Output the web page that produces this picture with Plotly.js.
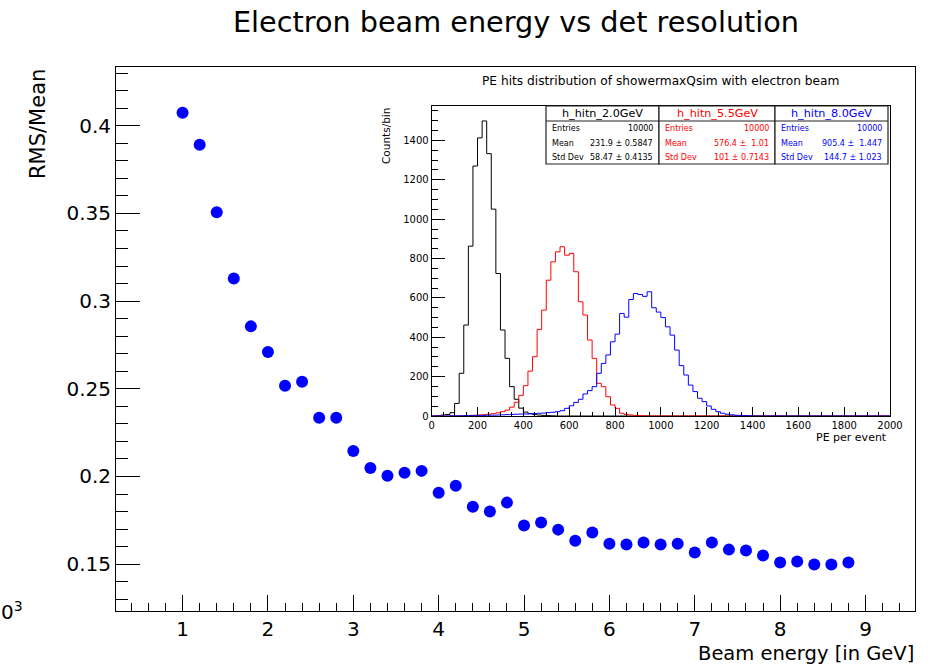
<!DOCTYPE html>
<html>
<head>
<meta charset="utf-8">
<script src="https://cdn.plot.ly/plotly-3.0.1.min.js"></script>
<style>
html,body{margin:0;padding:0;background:#ffffff;}
#chart{width:941px;height:664px;}
</style>
</head>
<body>
<div id="chart"></div>
<script>
// ---------- main graph data ----------
const beamEnergy = [1.0,1.2,1.4,1.6,1.8,2.0,2.2,2.4,2.6,2.8,
                    3.0,3.2,3.4,3.6,3.8,4.0,4.2,4.4,4.6,4.8,
                    5.0,5.2,5.4,5.6,5.8,6.0,6.2,6.4,6.6,6.8,
                    7.0,7.2,7.4,7.6,7.8,8.0,8.2,8.4,8.6,8.8];
const rmsOverMean = [0.4074,0.3892,0.3507,0.3129,0.2856,0.2710,0.2517,0.2540,0.2335,0.2335,
                     0.2146,0.2049,0.2004,0.2021,0.2032,0.1907,0.1947,0.1828,0.1800,0.1851,
                     0.1720,0.1737,0.1697,0.1634,0.1680,0.1617,0.1612,0.1623,0.1612,0.1617,
                     0.1566,0.1623,0.1583,0.1578,0.1549,0.1510,0.1515,0.1498,0.1498,0.1510];

// ---------- inset histograms (100 bins of 20 PE from 0 to 2000) ----------
const binWidth = 20;
const counts2GeV = [0,2,5,8,17,64,217,462,863,1270,
                    1413,1499,1333,1051,724,437,293,149,85,40,
                    20,12,7,5,3,2,1,0,0,0,
                    0,0,0,0,0,0,0,0,0,0,
                    0,0,0,0,0,0,0,0,0,0,
                    0,0,0,0,0,0,0,0,0,0,
                    0,0,0,0,0,0,0,0,0,0,
                    0,0,0,0,0,0,0,0,0,0,
                    0,0,0,0,0,0,0,0,0,0,
                    0,0,0,0,0,0,0,0,0,0];
const counts55GeV = [0,0,0,0,0,0,1,2,3,4,
                     5,7,9,12,16,22,30,45,70,105,
                     154,228,301,440,538,690,783,834,860,817,
                     826,733,580,513,386,293,166,149,98,56,
                     39,14,8,5,3,2,1,0,0,0,
                     0,0,0,0,0,0,0,0,0,0,
                     0,0,0,0,0,0,0,0,0,0,
                     0,0,0,0,0,0,0,0,0,0,
                     0,0,0,0,0,0,0,0,0,0,
                     0,0,0,0,0,0,0,0,0,0];
const counts8GeV = [0,0,0,0,1,1,1,2,2,2,
                    3,3,4,4,5,6,7,8,9,10,
                    10,11,12,14,15,17,19,22,27,39,
                    52,69,85,112,129,149,217,267,310,377,
                    416,521,502,592,622,617,608,631,550,528,
                    500,453,411,335,256,208,157,124,90,73,
                    51,34,22,14,9,6,4,3,2,1,
                    0,0,0,0,0,0,0,0,0,0,
                    0,0,0,0,0,0,0,0,0,0,
                    0,0,0,0,0,0,0,0,0,0];

const histNames  = ['h_hitn_2.0GeV','h_hitn_5.5GeV','h_hitn_8.0GeV'];
const histColors = ['#000000','#ff0000','#0000ff'];
const histCounts = [counts2GeV, counts55GeV, counts8GeV];
const statLabels = ['Entries','Mean','Std Dev'];
const statEntries = ['10000','10000','10000'];
const statMeans   = ['231.9 \u00b1 0.5847','576.4 \u00b1  1.01','905.4 \u00b1  1.447'];
const statStds    = ['58.47 \u00b1 0.4135','101 \u00b1 0.7143','144.7 \u00b1 1.023'];

// ---------- geometry helpers (pixel -> paper) ----------
const L = 116, R = 915, T = 67, B = 611;
const px = X => (X - L) / (R - L);
const py = Y => (B - Y) / (B - T);
const FONT = 'DejaVu Sans';

const traces = [];
histCounts.forEach((c, i) => {
  const xs = c.map((_, k) => k * binWidth);
  xs.push(c.length * binWidth);
  const ys = c.slice();
  ys.push(c[c.length - 1]);
  traces.push({
    type: 'scatter', mode: 'lines', x: xs, y: ys,
    xaxis: 'x2', yaxis: 'y2',
    line: {shape: 'hv', color: histColors[i], width: 1},
    hoverinfo: 'skip', showlegend: false
  });
});
traces.push({
  type: 'scatter', mode: 'markers', x: beamEnergy, y: rmsOverMean,
  xaxis: 'x', yaxis: 'y',
  marker: {color: '#0000ff', size: 12, line: {width: 0}},
  showlegend: false
});

const shapes = [];
const annotations = [];
const boxX = [546, 659, 775, 888];
const boxTop = 106, boxHead = 121, boxBot = 164;
const rowY = [128.3, 143.3, 158.0];
for (let i = 0; i < 3; i++) {
  const x0 = boxX[i], x1 = boxX[i + 1];
  shapes.push({type: 'rect', xref: 'paper', yref: 'paper',
    x0: px(x0), x1: px(x1), y0: py(boxBot), y1: py(boxTop),
    line: {color: '#222', width: 1.2}, fillcolor: 'rgba(255,255,255,1)', layer: 'above'});
  shapes.push({type: 'line', xref: 'paper', yref: 'paper',
    x0: px(x0), x1: px(x1), y0: py(boxHead), y1: py(boxHead),
    line: {color: '#222', width: 1}});
  annotations.push({xref: 'paper', yref: 'paper', x: px((x0 + x1) / 2), y: py((boxTop + boxHead) / 2),
    xanchor: 'center', yanchor: 'middle', showarrow: false, text: histNames[i],
    font: {family: FONT, size: 11.2, color: histColors[i]}});
  const vals = [statEntries[i], statMeans[i], statStds[i]];
  for (let r = 0; r < 3; r++) {
    annotations.push({xref: 'paper', yref: 'paper', x: px(x0 + 4), y: py(rowY[r]),
      xanchor: 'left', yanchor: 'middle', showarrow: false, text: statLabels[r],
      font: {family: FONT, size: 8, color: histColors[i]}});
    annotations.push({xref: 'paper', yref: 'paper', x: px(x1 - 4), y: py(rowY[r]),
      xanchor: 'right', yanchor: 'middle', showarrow: false, text: vals[r].replace(/ /g, '&nbsp;'),
      font: {family: FONT, size: 8, color: histColors[i]}});
  }
}

// titles and labels
annotations.push({xref: 'paper', yref: 'paper', x: px(660), y: py(81), xanchor: 'center', yanchor: 'middle',
  showarrow: false, text: 'PE hits distribution of showermaxQsim with electron beam',
  font: {family: FONT, size: 12.2, color: '#000'}});
annotations.push({xref: 'paper', yref: 'paper', x: px(889), y: py(437), xanchor: 'right', yanchor: 'middle',
  showarrow: false, text: 'PE per event', font: {family: FONT, size: 11, color: '#000'}});
annotations.push({xref: 'paper', yref: 'paper', x: px(386), y: py(106), xanchor: 'center', yanchor: 'top',
  showarrow: false, textangle: -90, text: 'Counts/bin', font: {family: FONT, size: 10.5, color: '#000'}});
annotations.push({xref: 'paper', yref: 'paper', x: 1, y: py(653), xanchor: 'right', yanchor: 'middle',
  showarrow: false, borderpad: 0, text: 'Beam energy [in GeV]', font: {family: FONT, size: 19.5, color: '#000'}});
annotations.push({xref: 'paper', yref: 'paper', x: px(38), y: py(67), xanchor: 'center', yanchor: 'top',
  showarrow: false, textangle: -90, text: 'RMS/Mean', font: {family: FONT, size: 21, color: '#000'}});
annotations.push({xref: 'paper', yref: 'paper', x: px(-1), y: py(611), xanchor: 'left', yanchor: 'middle',
  showarrow: false, text: '0<sup>3</sup>', font: {family: FONT, size: 20, color: '#000'}});

const layout = {
  width: 941, height: 664,
  margin: {l: L, r: 941 - R, t: T, b: 664 - B, pad: 0},
  paper_bgcolor: '#ffffff', plot_bgcolor: '#ffffff',
  showlegend: false,
  title: {text: 'Electron beam energy vs det resolution', x: px(516), xref: 'paper', xanchor: 'center',
          y: 1 - 22 / 664, yref: 'container', yanchor: 'middle',
          font: {family: FONT, size: 28.7, color: '#000'}},
  xaxis: {domain: [0, 1], anchor: 'y', range: [0.22, 9.58], tick0: 0, dtick: 1,
    ticks: 'inside', ticklen: 16, tickwidth: 1, tickcolor: '#000',
    minor: {dtick: 0.2, ticks: 'inside', ticklen: 8, tickwidth: 1, tickcolor: '#000'},
    showline: true, linecolor: '#000', linewidth: 1, mirror: true,
    showgrid: false, zeroline: false,
    tickfont: {family: FONT, size: 20, color: '#000'}},
  yaxis: {domain: [0, 1], anchor: 'x', range: [0.1233, 0.4335], tick0: 0, dtick: 0.05,
    ticks: 'inside', ticklen: 24, tickwidth: 1, tickcolor: '#000',
    minor: {dtick: 0.01, ticks: 'inside', ticklen: 12, tickwidth: 1, tickcolor: '#000'},
    showline: true, linecolor: '#000', linewidth: 1, mirror: true,
    showgrid: false, zeroline: false,
    tickfont: {family: FONT, size: 20, color: '#000'}},
  xaxis2: {domain: [px(431.7), px(890)], anchor: 'y2', range: [0, 2000], tick0: 0, dtick: 200,
    ticks: 'inside', ticklen: 9, tickwidth: 1, tickcolor: '#000',
    minor: {dtick: 50, ticks: 'inside', ticklen: 4.5, tickwidth: 1, tickcolor: '#000'},
    showline: true, linecolor: '#000', linewidth: 1, mirror: true,
    showgrid: false, zeroline: false,
    tickfont: {family: FONT, size: 10, color: '#000'}},
  yaxis2: {domain: [py(416), py(106)], anchor: 'x2', range: [0, 1575], tick0: 0, dtick: 200,
    ticks: 'inside', ticklen: 13, tickwidth: 1, tickcolor: '#000',
    minor: {dtick: 50, ticks: 'inside', ticklen: 6.5, tickwidth: 1, tickcolor: '#000'},
    showline: true, linecolor: '#000', linewidth: 1, mirror: true,
    showgrid: false, zeroline: false,
    tickfont: {family: FONT, size: 10, color: '#000'}},
  shapes: shapes,
  annotations: annotations
};

Plotly.newPlot('chart', traces, layout, {displayModeBar: false, staticPlot: true});
</script>
</body>
</html>
